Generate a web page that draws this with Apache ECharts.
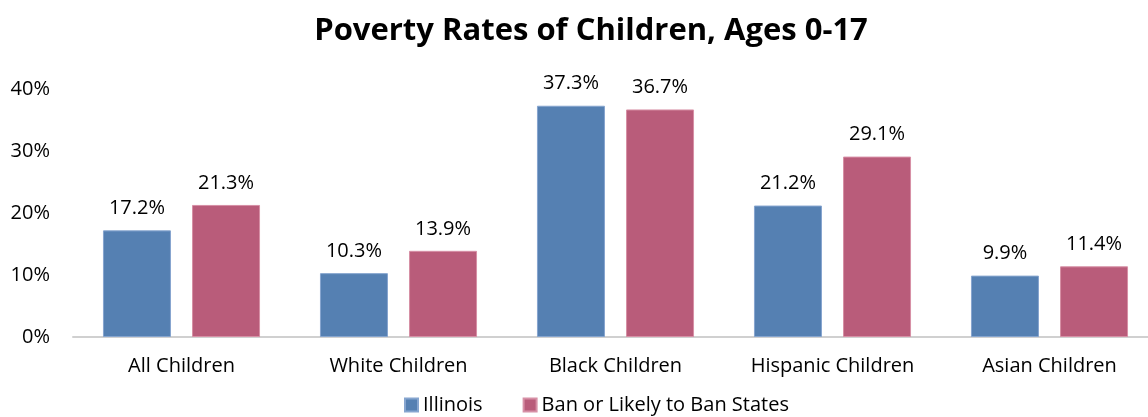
<!DOCTYPE html>
<html>
<head>
<meta charset="utf-8">
<script src="https://cdn.jsdelivr.net/npm/echarts@6/dist/echarts.min.js"></script>
<style>
  html, body { margin: 0; padding: 0; background: #fff; overflow: hidden; }
  /* canvas is a little wider than the window so the plot runs past the right edge */
  #chart { width: 1160px; height: 417px; }
</style>
</head>
<body>
<div id="chart"></div>
<script>
// Child poverty rates by group, in percent
const categories = ['All Children', 'White Children', 'Black Children', 'Hispanic Children', 'Asian Children'];
const illinois = [17.2, 10.3, 37.3, 21.2, 9.9];
const banStates = [21.3, 13.9, 36.7, 29.1, 11.4];
const seriesNames = ['Illinois', 'Ban or Likely to Ban States'];
const yTicks = [0, 10, 20, 30, 40];

const FONT = 'Open Sans';
const chart = echarts.init(document.getElementById('chart'));

const labelStyle = {
  show: true,
  position: 'top',
  distance: 12,
  fontFamily: FONT,
  fontSize: 20,
  color: '#000',
  formatter: p => p.value.toFixed(1) + '%'
};

chart.setOption({
  animation: false,
  title: {
    text: 'Poverty Rates of Children, Ages 0-17',
    left: 586,
    textAlign: 'center',
    top: 11,
    textStyle: { fontFamily: FONT, fontWeight: 'bold', fontSize: 31, color: '#000' }
  },
  legend: {
    bottom: -3,
    left: 399,
    itemWidth: 13,
    itemHeight: 13,
    itemGap: 40,
    icon: 'rect',
    textStyle: { fontFamily: FONT, fontSize: 20, color: '#000' },
    data: seriesNames
  },
  grid: { left: 73, right: 2, top: 89, bottom: 80, containLabel: false },
  xAxis: {
    type: 'category',
    data: categories,
    axisTick: { show: false },
    axisLine: { lineStyle: { color: '#d0d0d0', width: 2 } },
    axisLabel: { fontFamily: FONT, fontSize: 20, color: '#000', margin: 19 }
  },
  yAxis: {
    type: 'value',
    min: yTicks[0],
    max: yTicks[yTicks.length - 1],
    interval: 10,
    splitLine: { show: false },
    axisLine: { show: false },
    axisTick: { show: false },
    axisLabel: { fontFamily: FONT, fontSize: 20, color: '#000', margin: 23, formatter: v => v + '%' }
  },
  series: [
    {
      name: seriesNames[0],
      type: 'bar',
      data: illinois,
      barWidth: 68,
      barGap: '31%',
      itemStyle: { color: '#5580B2', borderColor: '#86A5CF', borderWidth: 1 },
      label: labelStyle
    },
    {
      name: seriesNames[1],
      type: 'bar',
      data: banStates,
      barWidth: 68,
      itemStyle: { color: '#B95C7A', borderColor: '#D790A6', borderWidth: 1 },
      label: labelStyle
    }
  ]
});
</script>
</body>
</html>
